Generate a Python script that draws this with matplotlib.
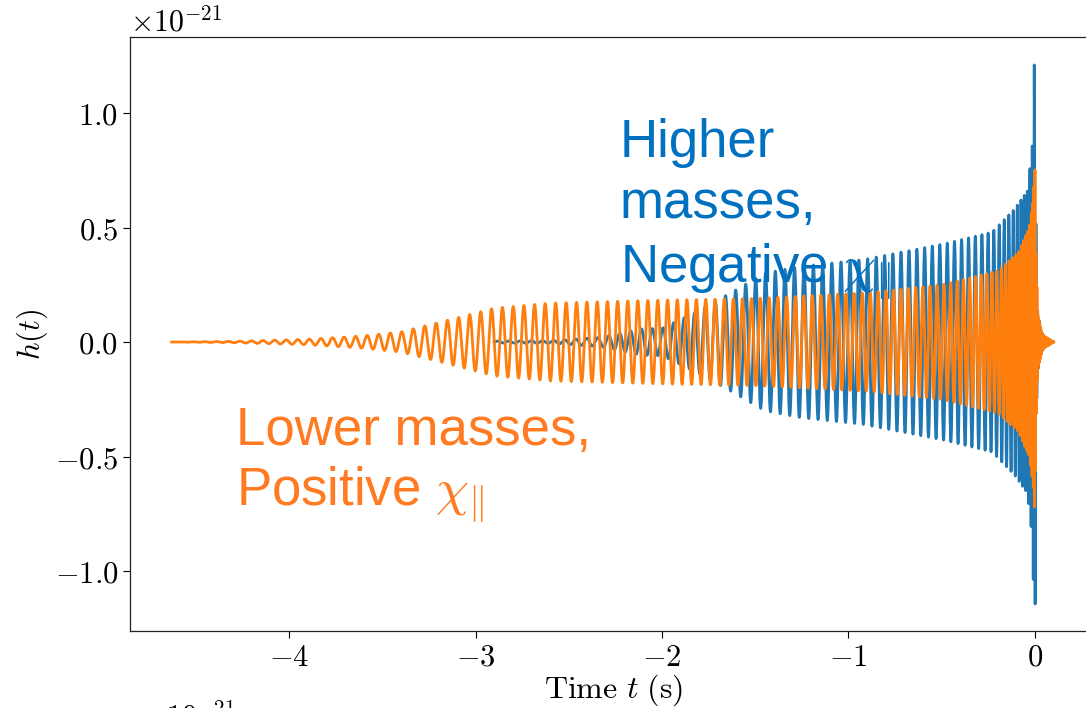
import numpy as np
import matplotlib
matplotlib.use("Agg")
import matplotlib.pyplot as plt
from matplotlib.ticker import FuncFormatter, FixedLocator

plt.rcParams['font.family'] = ['Liberation Sans', 'DejaVu Sans']
plt.rcParams['mathtext.fontset'] = 'cm'

# ---------------- data (strain in units of 1e-21) ----------------
# Orange waveform (lower masses, positive chi): amplitude envelope
orange_env_t = [-4.63, -4.30, -3.90, -3.62, -3.40, -3.15, -2.90, -2.60, -2.00, -1.50,
                -0.90, -0.50, -0.20, -0.09, -0.03, -0.01, 0.000, 0.005, 0.015, 0.040, 0.100]
orange_env = [0.000, 0.003, 0.012, 0.026, 0.044, 0.095, 0.148, 0.170, 0.183, 0.190,
              0.215, 0.250, 0.310, 0.390, 0.500, 0.620, 0.760, 0.400, 0.120, 0.030, 0.000]
# Orange visible cycle rate (Hz)
orange_f_t = [-4.63, -3.30, -3.00, -2.10, -1.50, -1.00, -0.50, -0.30, -0.20, -0.10, -0.03, 0.00, 0.10]
orange_f = [16.0, 16.2, 17.0, 18.6, 21.0, 22.5, 27.0, 32.0, 40.0, 60.0, 100.0, 180.0, 300.0]

# Blue waveform (higher masses, negative chi): amplitude envelope
blue_env_t = [-2.90, -2.60, -2.33, -2.12, -2.00, -1.82, -1.62, -1.45, -1.26, -0.92,
              -0.48, -0.23, -0.11, -0.04, -0.015, -0.004, 0.001, 0.006, 0.012, 0.030, 0.060, 0.100]
blue_env = [0.004, 0.006, 0.020, 0.057, 0.060, 0.130, 0.220, 0.300, 0.330, 0.360,
            0.430, 0.480, 0.580, 0.660, 0.850, 1.210, 1.150, 0.450, 0.150, 0.050, 0.010, 0.000]
# Blue visible cycle rate (Hz)
blue_f_t = [-2.90, -2.10, -1.55, -1.00, -0.50, -0.30, -0.20, -0.10, -0.04, 0.00, 0.10]
blue_f = [16.5, 17.2, 18.6, 20.7, 25.0, 28.0, 35.0, 46.0, 65.0, 100.0, 250.0]

blue_peak_t = -0.004
orange_peak_t = 0.000

x_ticks = [-4, -3, -2, -1, 0]
y_ticks = [-1.0, -0.5, 0.0, 0.5, 1.0]

# ---------------- build waveforms ----------------
fs = 4096.0


def waveform(t_env, env, t_f, f, t_peak):
    t = np.arange(t_env[0], t_env[-1], 1.0 / fs)
    a = np.interp(t, t_env, env)
    freq = np.interp(t, t_f, f)
    phase = 2 * np.pi * np.cumsum(freq) / fs
    phase -= np.interp(t_peak, t, phase)
    return t, a * np.cos(phase)


tb, hb = waveform(blue_env_t, blue_env, blue_f_t, blue_f, blue_peak_t)
to, ho = waveform(orange_env_t, orange_env, orange_f_t, orange_f, orange_peak_t)

# ---------------- figure ----------------
W, H = 1086, 708
L, R, T, B = 130, 1098, 37, 631
fig = plt.figure(figsize=(W / 100, H / 100), dpi=100)
ax = fig.add_axes([L / W, 1 - B / H, (R - L) / W, (B - T) / H])

ax.plot(tb, hb, color='#1f77b4', lw=2.0, zorder=2)
ax.plot(to, ho, color='#ff7f0e', lw=2.0, zorder=2.1)

ax.set_xlim(-4.853, 0.338)
ax.set_ylim(-1.262, 1.332)

ax.xaxis.set_major_locator(FixedLocator(x_ticks))
ax.yaxis.set_major_locator(FixedLocator(y_ticks))
ax.xaxis.set_major_formatter(FuncFormatter(lambda v, p: f"${int(round(v))}$"))
ax.yaxis.set_major_formatter(FuncFormatter(lambda v, p: f"${v:.1f}$"))
ax.tick_params(labelsize=22, length=5, width=0.8, direction='out')
for s in ax.spines.values():
    s.set_linewidth(0.9)
    s.set_color('#222222')

ax.set_xlabel(r"$\mathrm{Time}\ t\ \mathrm{(s)}$", fontsize=23, labelpad=0)
ax.set_ylabel(r"$h(t)$", fontsize=22, labelpad=3)

ax.text(0.0, 1.0, r"$\times10^{-21}$", transform=ax.transAxes, fontsize=21.5,
        ha='left', va='bottom')

# partially visible offset text from the panel below (cut by the figure edge)
fig.text(143 / W, 1 - 701 / H, r"$\times10^{-21}$", fontsize=21.5, ha='left', va='top')

# annotations
blue_txt = '#0070C0'
orange_txt = '#FF7A21'
fsz = 38
for line, yb in [("Higher", 157), ("masses,", 218), (r"Negative $\chi_{\Vert}$", 282)]:
    fig.text(620 / W, 1 - yb / H, line, color=blue_txt, fontsize=fsz,
             ha='left', va='baseline', zorder=5)
for line, yb in [("Lower masses,", 445), (r"Positive $\chi_{\Vert}$", 505)]:
    fig.text(236 / W, 1 - yb / H, line, color=orange_txt, fontsize=fsz,
             ha='left', va='baseline', zorder=5)

fig.savefig("out.png", dpi=100)
